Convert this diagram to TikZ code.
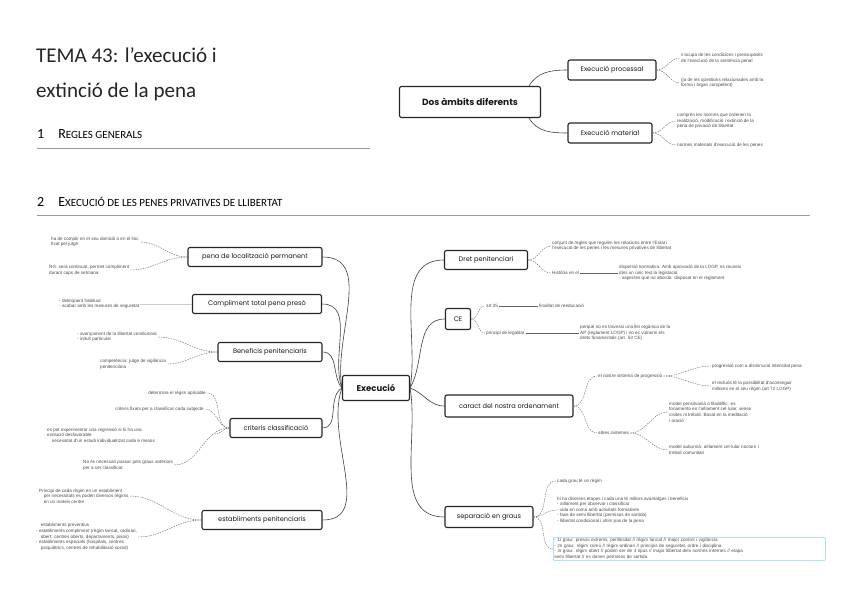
\documentclass[tikz,border=0pt]{standalone}
\usepackage{fontspec}
\setmainfont{Liberation Sans}
\newfontfamily\titlefont{Carlito}
\newfontfamily\boxfont{Poppins}
\begin{document}
\begin{tikzpicture}[x=1pt,y=-1pt,
  bx/.style={draw=black!85,line width=1.1pt,rounded corners=2pt,fill=white,font=\boxfont\fontsize{6.6}{7}\selectfont,inner sep=0pt,minimum height=19pt,text=black!90},
  leaf/.style={font=\fontsize{4.6}{5.6}\selectfont,text=black!70,align=left,inner sep=1pt},
  br/.style={line width=0.6pt,black!75},
  dl/.style={dashed,line width=0.4pt,black!60,dash pattern=on 1.5pt off 1pt},
  sl/.style={line width=0.5pt,black!60}]
\useasboundingbox (0,0) rectangle (848,599);
\fill[white] (0,0) rectangle (848,599);
% titles
\node[anchor=west,font=\titlefont\fontsize{21}{24}\selectfont,text=black!85,inner sep=0] (t1) at (36,55) {TEMA 43: l’execució i};
\node[anchor=west,font=\titlefont\fontsize{21}{24}\selectfont,text=black!85,inner sep=0] (t2) at (36,92) {extinció de la pena};
\node[anchor=west,font=\titlefont\fontsize{14}{16}\selectfont,inner sep=0] (h1) at (37,134) {1\quad R\fontsize{11}{12}\selectfont EGLES GENERALS};
\draw[black!40,line width=0.5pt] (37,148) -- (370,148);
\node[anchor=west,font=\titlefont\fontsize{14}{16}\selectfont,inner sep=0] (h2) at (37,202) {2\quad E\fontsize{11}{12}\selectfont XECUCIÓ DE LES PENES PRIVATIVES DE LLIBERTAT};
\draw[black!40,line width=0.5pt] (37,215) -- (810,215);

% Dos ambits
\node[bx,minimum width=141pt,minimum height=31pt,font=\boxfont\bfseries\fontsize{9}{10}\selectfont] (dos) at (470,102) {Dos àmbits diferents};
\node[bx,minimum width=88pt,minimum height=20pt] (ep) at (612,70) {Execució processal};
\node[bx,minimum width=84pt,minimum height=20pt] (em) at (610,133) {Execució material};
\draw[br] (dos.north east)++(-12,0) to[out=60,in=180] (ep.west);
\draw[br] (dos.south east)++(-12,0) to[out=-60,in=180] (em.west);
\node[leaf,anchor=west] (ep1) at (680,58) {s'ocupa de les condicions i pressupòsits\\de l'execució de la sentència penal};
\node[leaf,anchor=west] (ep2) at (680,83) {(ja de les qüestions relacionades amb la\\forma i òrgan competent)};
\draw[dl] (ep.east) to[out=0,in=180] (ep1.west);
\draw[dl] (ep.east) to[out=0,in=180] (ep2.west);
\node[leaf,anchor=west] (em1) at (676,121) {comprèn les normes que ordenen la\\realització, modificació i extinció de la\\pena de privació de llibertat};
\node[leaf,anchor=west] (em2) at (676,145) {normes materials d'execució de les penes};
\draw[dl] (em.east) to[out=0,in=180] (em1.west);
\draw[dl] (em.east) to[out=0,in=180] (em2.west);

% central
\node[bx,minimum width=67pt,minimum height=25pt,font=\boxfont\bfseries\fontsize{8.5}{10}\selectfont] (ex) at (376,388) {Execució};
% left boxes
\node[bx,minimum width=134pt] (pl) at (255,257) {pena de localització permanent};
\node[bx,minimum width=129pt] (ct) at (257,304) {Compliment total pena presó};
\node[bx,minimum width=104pt] (bp) at (270,352) {Beneficis penitenciaris};
\node[bx,minimum width=92pt] (cc) at (276,428) {criteris classificació};
\node[bx,minimum width=120pt] (es) at (262,520) {establiments penitenciaris};
% right boxes
\node[bx,minimum width=83pt] (dp) at (486,260) {Dret penitenciari};
\node[bx,minimum width=25pt,minimum height=21pt] (ce) at (458,319) {CE};
\node[bx,minimum width=128pt,minimum height=22pt] (co) at (509,406) {caract del nostra ordenament};
\node[bx,minimum width=88pt,minimum height=21pt] (sg) at (489,517) {separació en graus};
% main branches
\foreach \b/\o in {pl/100,ct/110,bp/130,cc/-150,es/-110}{
  \draw[br] (ex.west) to[out=\o,in=0] (\b.east);}
\foreach \b/\o in {dp/80,ce/60,co/-20,sg/-80}{
  \draw[br] (ex.east) to[out=\o,in=180] (\b.west);}

% pena localitzacio leaves
\node[leaf,anchor=west] (pl1) at (50,242) {ha de complir en el seu domicili o en el lloc\\fixat pel jutge};
\node[leaf,anchor=west] (pl2) at (48,270) {RG: serà continuat, permet compliment\\durant caps de setmana};
\draw[dl] (pl.west) to[out=180,in=0] (pl1.east);
\draw[dl] (pl.west) to[out=180,in=0] (pl2.east);
% compliment total
\node[leaf,anchor=west] (ct1) at (58,304) {- delinqüent habitual\\- acabar amb les mesures de seguretat};
\draw[black!20,line width=0.4pt] (ct.west) -- (ct1.east);
% beneficis
\node[leaf,anchor=west] (bp1) at (76,337) {- avançament de la llibertat condicional\\- indult particular};
\node[leaf,anchor=west] (bp2) at (99,364) {competència: jutge de vigilància\\penitenciària};
\draw[dl] (bp.west) to[out=180,in=0] (bp1.east);
\draw[dl] (bp.west) to[out=180,in=0] (bp2.east);
% criteris
\node[leaf,anchor=east] (cc1) at (207,393) {determina el règim aplicable};
\node[leaf,anchor=east] (cc2) at (205,409) {criteris fixats per a classificar cada subjecte};
\node[leaf,anchor=west] (cc3) at (46,435) {es pot experimentar una regressió si hi ha una\\evolució desfavorable\\\quad necessitat d'un estudi individualitzat cada 6 mesos};
\node[leaf,anchor=west] (cc4) at (82,465) {No és necessari passar pels graus anteriors\\per a ser classificat};
\foreach \n in {cc1,cc2,cc4} \draw[dl] (cc.west) to[out=180,in=0] (\n.east);
\draw[dl] (cc.west) to[out=180,in=0] (215,434);
% establiments
\node[leaf,anchor=west] (es1) at (38,496) {Principi de cada règim en un establiment\\\quad per necessitats es poden diversos règims\\\quad en un mateix centre};
\node[leaf,anchor=west] (es2) at (35,537) {\quad establiments preventius\\- establiments compliment (règim tancat, ordinari,\\\quad obert: centres oberts, departaments, pisos)\\- establiments especials (hospitals, centres\\\quad psiquiàtrics, centres de rehabilitació social)};
\draw[dl] (es.west) to[out=180,in=0] (es1.east);
\draw[dl] (es.west) to[out=180,in=0] (es2.east);

% dret penitenciari
\node[leaf,anchor=west] (dp1) at (551,246) {conjunt de regles que regulen les relacions entre l'Estat i\\l'execució de les penes i les mesures privatives de llibertat};
\node[leaf,anchor=west] (dp2) at (551,273) {Història en el};
\draw[dl] (dp.east) to[out=0,in=180] (dp1.west);
\draw[dl] (dp.east) to[out=0,in=180] (dp2.west);
\node[leaf,anchor=west] (dp3) at (618,273) {dispersió normativa. Amb aprovació de la LOGP, es reuneix\\dins un únic text la legislació\\- aspectes que no aborda: disposat en el reglament};
\draw[sl] (dp2.east) -- (dp3.west);
% CE
\node[leaf,anchor=west] (ce1) at (485,306) {art 25};
\node[leaf,anchor=west] (ce2) at (485,333) {principi de legalitat};
\draw[dl] (ce.east) to[out=0,in=180] (ce1.west);
\draw[dl] (ce.east) to[out=0,in=180] (ce2.west);
\node[leaf,anchor=west] (ce3) at (538,306) {finalitat de reeducació};
\draw[sl] (ce1.east) -- (ce3.west);
\node[leaf,anchor=west] (ce4) at (579,333) {perquè no es travessi una llei orgànica de la\\AP (reglament LOGP) i no es vulnerin els\\drets fonamentals (art. 53 CE)};
\draw[sl] (ce2.east) -- (ce4.west);
% caract
\node[leaf,anchor=west] (co1) at (597,376) {el nostre sistema de progressió};
\node[leaf,anchor=west] (co2) at (597,433) {altres sistemes};
\draw[dl] (co.east) to[out=0,in=180] (co1.west);
\draw[dl] (co.east) to[out=0,in=180] (co2.west);
\node[leaf,anchor=west] (co3) at (711,366) {progressió com a disminució intensitat pena};
\node[leaf,anchor=west] (co4) at (711,386) {el recluós té la possibilitat d'aconseguir\\millores en el seu règim (art 72 LOGP)};
\draw[dl] (co1.east) to[out=0,in=180] (co3.west);
\draw[dl] (co1.east) to[out=0,in=180] (co4.west);
\node[leaf,anchor=west] (co5) at (668,412) {model pensilvanià o filadèlfic: es\\fonamenta en l'aïllament cel·lular, sense\\visites ni treball. Basat en la meditació\\i oració};
\node[leaf,anchor=west] (co6) at (668,450) {model auburnià: aïllament cel·lular nocturn i\\treball comunitari};
\draw[dl] (co2.east) to[out=0,in=180] (co5.west);
\draw[dl] (co2.east) to[out=0,in=180] (co6.west);
% separacio
\node[leaf,anchor=west] (sg1) at (556,481) {cada grau té un règim};
\node[leaf,anchor=west] (sg2) at (556,510) {hi ha diverses etapes i cada una té millors avantatges i beneficis\\- aïllament per observar i classificar\\- vida en comú amb activitats formatives\\- fase de semi llibertat (permisos de sortida)\\- llibertat condicional i últim pas de la pena};
\draw[dl] (sg.east) to[out=0,in=180] (sg1.west);
\draw[dl] (sg.east) to[out=0,in=180] (sg2.west);
\node[draw=cyan!50,line width=0.6pt,rounded corners=1pt,leaf,anchor=north west,text width=270pt] (sg3) at (553,537) {- 1r grau: presos extrems, perillositat // règim tancat // major control i vigilància\\- 2n grau: règim comú // règim ordinari // principis de seguretat, ordre i disciplina\\- 3r grau: règim obert // poden ser de 3 tipus // major llibertat dels normes internes // etapa\\semi llibertat // es donen permisos de sortida};
\draw[dl] (sg.east) to[out=0,in=180] (sg3.west);
\end{tikzpicture}
\end{document}
